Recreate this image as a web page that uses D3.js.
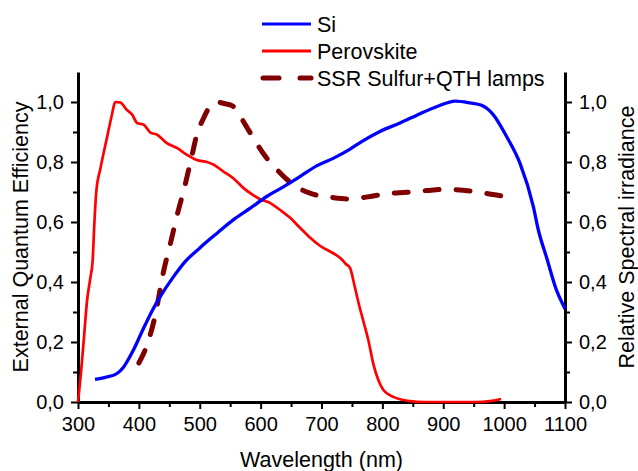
<!DOCTYPE html>
<html>
<head>
<meta charset="utf-8">
<script src="https://cdn.jsdelivr.net/npm/d3@7"></script>
<style>
body { margin: 0; background: #fff; }
text { font-family: "Liberation Sans", Arial, sans-serif; fill: #000; }
</style>
</head>
<body>
<div id="chart"></div>
<script>
// wavelength (nm) and normalised values
var siX = [328, 345, 364, 375, 391, 405, 421, 435, 457, 476, 501, 512, 528, 555, 583, 610, 638, 665, 692, 720, 747, 766, 796, 829, 862, 890, 920, 944, 963, 982, 1004, 1026, 1048, 1056, 1070, 1086, 1097, 1100]
var siY = [0.075, 0.082, 0.095, 0.117, 0.173, 0.234, 0.301, 0.351, 0.418, 0.468, 0.515, 0.535, 0.562, 0.607, 0.646, 0.685, 0.718, 0.752, 0.787, 0.813, 0.843, 0.868, 0.902, 0.93, 0.961, 0.985, 1.003, 0.997, 0.989, 0.958, 0.885, 0.796, 0.651, 0.575, 0.48, 0.373, 0.323, 0.31]

var pvX = [300, 305, 310, 315, 320, 324, 327, 330, 337, 348, 356, 361, 369, 380, 389, 397, 408, 419, 430, 446, 463, 479, 495, 512, 523, 539, 555, 572, 583, 599, 616, 632, 649, 665, 680, 698, 720, 733, 740, 747, 754, 761, 770, 777, 785, 793, 802, 818, 846, 868, 950, 980, 995]
var pvY = [0, 0.1, 0.22, 0.34, 0.41, 0.47, 0.6, 0.7, 0.78, 0.885, 0.96, 1.0, 0.999, 0.974, 0.958, 0.93, 0.924, 0.898, 0.891, 0.863, 0.846, 0.824, 0.807, 0.8, 0.791, 0.768, 0.746, 0.713, 0.696, 0.676, 0.663, 0.64, 0.613, 0.58, 0.55, 0.52, 0.495, 0.476, 0.46, 0.446, 0.39, 0.329, 0.26, 0.206, 0.128, 0.075, 0.039, 0.017, 0.003, 0, 0, 0.004, 0.01]

var ssrX = [400, 415, 427, 440, 452, 465, 473, 487, 495, 506, 515, 528, 540, 553, 575, 588, 608, 627, 654, 681, 720, 744, 780, 807, 840, 873, 906, 936, 969, 996]
var ssrY = [0.13, 0.2, 0.29, 0.43, 0.53, 0.64, 0.7, 0.82, 0.89, 0.945, 0.98, 1.0, 0.995, 0.988, 0.924, 0.88, 0.818, 0.774, 0.724, 0.696, 0.681, 0.677, 0.685, 0.694, 0.699, 0.705, 0.709, 0.705, 0.696, 0.687]

var seriesNames = ["Si", "Perovskite", "SSR Sulfur+QTH lamps"]
var xTicks = [300, 400, 500, 600, 700, 800, 900, 1000, 1100]
var yTicks = [0, 0.2, 0.4, 0.6, 0.8, 1.0]

var W = 638, H = 471
var pLeft = 78, pRight = 565, pTop = 72, pBottom = 402

var svg = d3.select("#chart").append("svg")
    .attr("width", W).attr("height", H)

var x = d3.scaleLinear().domain([300, 1100]).range([pLeft, pRight])
var y = d3.scaleLinear().domain([0, 1.1]).range([pBottom, pTop])

var fmt = function(d) { return d3.format(".1f")(d).replace(".", ",") }

// minor ticks first
svg.append("g").attr("transform", "translate(0," + pBottom + ")")
    .call(d3.axisBottom(x).tickValues(d3.range(350, 1100, 100)).tickSize(5).tickFormat(""))
    .call(g => g.select(".domain").remove())
svg.append("g").attr("transform", "translate(" + pLeft + ",0)")
    .call(d3.axisLeft(y).tickValues([0.1, 0.3, 0.5, 0.7, 0.9]).tickSize(5).tickFormat(""))
    .call(g => g.select(".domain").remove())
svg.append("g").attr("transform", "translate(" + pRight + ",0)")
    .call(d3.axisRight(y).tickValues([0.1, 0.3, 0.5, 0.7, 0.9]).tickSize(5).tickFormat(""))
    .call(g => g.select(".domain").remove())

// major axes
var xAxis = svg.append("g").attr("transform", "translate(0," + pBottom + ")")
    .call(d3.axisBottom(x).tickValues(xTicks).tickSize(7).tickSizeOuter(0).tickPadding(6).tickFormat(d3.format("d")))
var yAxis = svg.append("g").attr("transform", "translate(" + pLeft + ",0)")
    .call(d3.axisLeft(y).tickValues(yTicks).tickSize(7).tickSizeOuter(0).tickPadding(7).tickFormat(fmt))
var y2Axis = svg.append("g").attr("transform", "translate(" + pRight + ",0)")
    .call(d3.axisRight(y).tickValues(yTicks).tickSize(7).tickSizeOuter(0).tickPadding(7).tickFormat(fmt))

svg.selectAll(".tick line").attr("stroke", "#000").attr("stroke-width", 2)
svg.selectAll(".domain").attr("stroke", "#000").attr("stroke-width", 3)
svg.selectAll(".tick text").style("font-size", "20px")
    .style("font-family", "'Liberation Sans', Arial, sans-serif").attr("fill", "#000")
xAxis.selectAll(".tick text").attr("dy", "0.78em")

// curves
function pts(xs, ys) { return xs.map((d, i) => [d, ys[i]]) }
var line = d3.line().x(d => x(d[0])).y(d => y(d[1])).curve(d3.curveMonotoneX)

var plot = svg.append("g")
plot.append("path").datum(pts(ssrX, ssrY))
    .attr("d", line).attr("fill", "none")
    .attr("stroke", "#800000").attr("stroke-width", 5)
    .attr("stroke-dasharray", "14,17").attr("stroke-linecap", "round")
plot.append("path").datum(pts(pvX, pvY))
    .attr("d", line).attr("fill", "none")
    .attr("stroke", "#ff0000").attr("stroke-width", 2.7)
plot.append("path").datum(pts(siX, siY))
    .attr("d", line).attr("fill", "none")
    .attr("stroke", "#0000ff").attr("stroke-width", 3.3)

// axis titles
svg.append("text").attr("x", (pLeft + pRight) / 2).attr("y", 467)
    .attr("text-anchor", "middle").style("font-size", "21.5px").text("Wavelength (nm)")
svg.append("text").attr("transform", "translate(28," + (pTop + pBottom) / 2 + ") rotate(-90)")
    .attr("text-anchor", "middle").style("font-size", "21.5px").text("External Quantum Efficiency")
svg.append("text").attr("transform", "translate(634," + (pTop + pBottom) / 2 + ") rotate(-90)")
    .attr("text-anchor", "middle").style("font-size", "21.5px").text("Relative Spectral irradiance")

// legend
var legColors = ["#0000ff", "#ff0000", "#800000"]
var legY = [24, 51, 78]
var leg = svg.append("g")
seriesNames.forEach(function(name, i) {
    var l = leg.append("line").attr("x1", 262).attr("x2", 311)
        .attr("y1", legY[i]).attr("y2", legY[i])
        .attr("stroke", legColors[i]).attr("stroke-width", i == 2 ? 5 : 3)
    if (i == 2) l.attr("x1", 263).attr("stroke-dasharray", "16,21").attr("stroke-linecap", "round")
    leg.append("text").attr("x", 317).attr("y", legY[i]).attr("dy", "0.36em")
        .style("font-size", "21.5px").text(name)
})
</script>
</body>
</html>
